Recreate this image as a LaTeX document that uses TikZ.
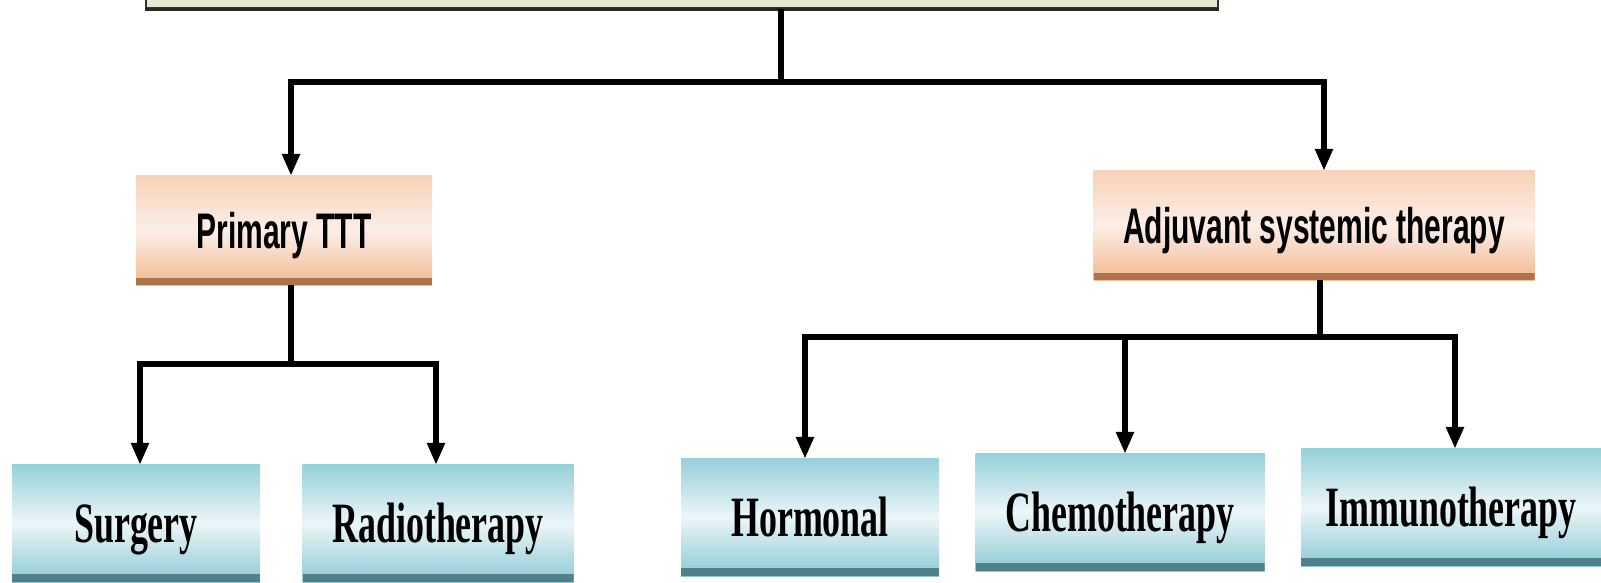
\documentclass[tikz,border=0pt]{standalone}
\usepackage{fontspec}
\newfontfamily\sansn[FakeStretch=0.6]{Liberation Sans}
\newfontfamily\serifn[FakeStretch=0.63]{Liberation Serif}
\usetikzlibrary{arrows.meta}
\definecolor{bT}{RGB}{150,208,218}
\definecolor{bM}{RGB}{236,246,249}
\definecolor{bB}{RGB}{140,202,212}
\definecolor{bS}{RGB}{80,128,138}
\definecolor{oT}{RGB}{248,210,182}
\definecolor{oM}{RGB}{252,238,232}
\definecolor{oB}{RGB}{242,186,144}
\definecolor{oS}{RGB}{175,115,75}
\definecolor{gF}{RGB}{226,234,212}
\tikzset{
  x=1pt, y=-1pt,
  bluebox/.style={rectangle, inner sep=0pt, minimum width=#1, minimum height=118pt,
    top color=bT, bottom color=bB, middle color=bM,
    path picture={
      \fill[bS] (path picture bounding box.south west) rectangle ([yshift=8pt]path picture bounding box.south east);},
    font=\serifn\bfseries\fontsize{57}{60}\selectfont, text height=38pt, text depth=0pt},
  orangebox/.style={rectangle, inner sep=0pt, minimum width=#1, minimum height=110pt,
    top color=oT, bottom color=oB, middle color=oM,
    path picture={
      \fill[oS] (path picture bounding box.south west) rectangle ([yshift=7pt]path picture bounding box.south east);},
    font=\sansn\bfseries\fontsize{50}{60}\selectfont, text height=36pt, text depth=0pt},
  conn/.style={line width=5.5pt},
  arr/.style={line width=5.5pt, -{Triangle[width=17pt,length=22pt]}, shorten >=-1pt},
}
\begin{document}
\begin{tikzpicture}
\useasboundingbox (0,0) rectangle (1601,582);
\clip (0,0) rectangle (1601,582);
% top box (cut off)
\node[rectangle, fill=gF, draw=black!80, line width=2pt, minimum width=1072pt, minimum height=80pt, inner sep=0pt] (top) at (682,-32) {};
\draw[black!85, line width=3pt] (top.south west) -- (top.south east);
% level 1
\node[orangebox=296pt] (prim) at (284,230) {Primary TTT};
\node[orangebox=441pt] (adj) at (1314,225) {Adjuvant systemic therapy};
% level 2
\node[bluebox=248pt] (surg) at (136,523) {Surgery};
\node[bluebox=271pt] (radio) at (438,523) {Radiotherapy};
\node[bluebox=258pt] (horm) at (810,517) {Hormonal};
\node[bluebox=289pt] (chemo) at (1120,512) {Chemotherapy};
\node[bluebox=300pt] (immu) at (1451,507) {Immunotherapy};
% connectors from top
\coordinate (t1) at (781,82);
\coordinate (tL) at (291,82);
\coordinate (tR) at (1324,82);
\draw[conn] (top.south -| t1) -- (t1);
\draw[conn, line cap=rect] (tL) -- (tR);
\draw[arr] (tL) -- (tL |- prim.north);
\draw[arr] (tR) -- (tR |- adj.north);
% connectors from Primary TTT
\coordinate (p1) at (291,364);
\coordinate (pL) at (140,364);
\coordinate (pR) at (436,364);
\draw[conn] (prim.south -| p1) -- (p1);
\draw[conn, line cap=rect] (pL) -- (pR);
\draw[arr] (pL) -- (pL |- surg.north);
\draw[arr] (pR) -- (pR |- radio.north);
% connectors from Adjuvant
\coordinate (a1) at (1320,337);
\coordinate (aL) at (805,337);
\coordinate (aM) at (1125,337);
\coordinate (aR) at (1455,337);
\draw[conn] (adj.south -| a1) -- (a1);
\draw[conn, line cap=rect] (aL) -- (aR);
\draw[arr] (aL) -- (aL |- horm.north);
\draw[arr] (aM) -- (aM |- chemo.north);
\draw[arr] (aR) -- (aR |- immu.north);
\end{tikzpicture}
\end{document}
